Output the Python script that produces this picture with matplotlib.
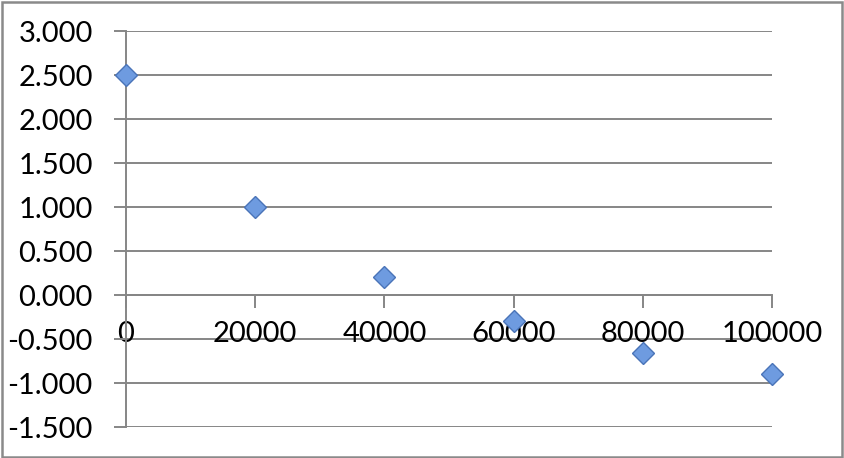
import matplotlib.pyplot as plt
from matplotlib.patches import Rectangle

# data
x_vals = [0, 20000, 40000, 60000, 80000, 100000]
y_vals = [2.5, 1.0, 0.2, -0.3, -0.66, -0.9]
y_ticks = [-1.5, -1.0, -0.5, 0.0, 0.5, 1.0, 1.5, 2.0, 2.5, 3.0]
x_ticks = [0, 20000, 40000, 60000, 80000, 100000]

plt.rcParams['font.family'] = ['Lato', 'DejaVu Sans']
grid_col = '#868686'

fig = plt.figure(figsize=(8.44, 4.58), dpi=100)
ax = fig.add_axes([126/844, 1-427/458, (772-126)/844, (427-31)/458])

# horizontal gridlines
for yt in y_ticks:
    ax.axhline(yt, color=grid_col, lw=1.4, zorder=1)

ax.plot(x_vals, y_vals, linestyle='none', marker='D', markersize=11,
        markerfacecolor='#6E9BE0', markeredgecolor='#4A74B8', markeredgewidth=1.0,
        zorder=5, clip_on=False)

ax.set_xlim(0, 100000)
ax.set_ylim(-1.5, 3.0)
ax.set_yticks(y_ticks)
ax.set_yticklabels(['%.3f' % v for v in y_ticks])
ax.set_xticks(x_ticks)
ax.set_xticklabels([str(v) for v in x_ticks])

for s in ['top', 'right']:
    ax.spines[s].set_visible(False)
ax.spines['left'].set_color(grid_col)
ax.spines['left'].set_linewidth(1.4)
ax.spines['bottom'].set_position(('data', 0))
ax.spines['bottom'].set_color(grid_col)
ax.spines['bottom'].set_linewidth(1.4)

ax.tick_params(axis='y', direction='out', length=9, width=1.4, color=grid_col,
               pad=15, labelsize=21)
ax.tick_params(axis='x', direction='out', length=9, width=1.4, color=grid_col,
               pad=10, labelsize=21)
ax.patch.set_visible(False)

# outer chart border
fig.patches.append(Rectangle((0.002, 0.003), 0.996, 0.993, transform=fig.transFigure,
                             fill=False, edgecolor='#8a8a8a', lw=1.8))

fig.savefig('out.png', dpi=100)
